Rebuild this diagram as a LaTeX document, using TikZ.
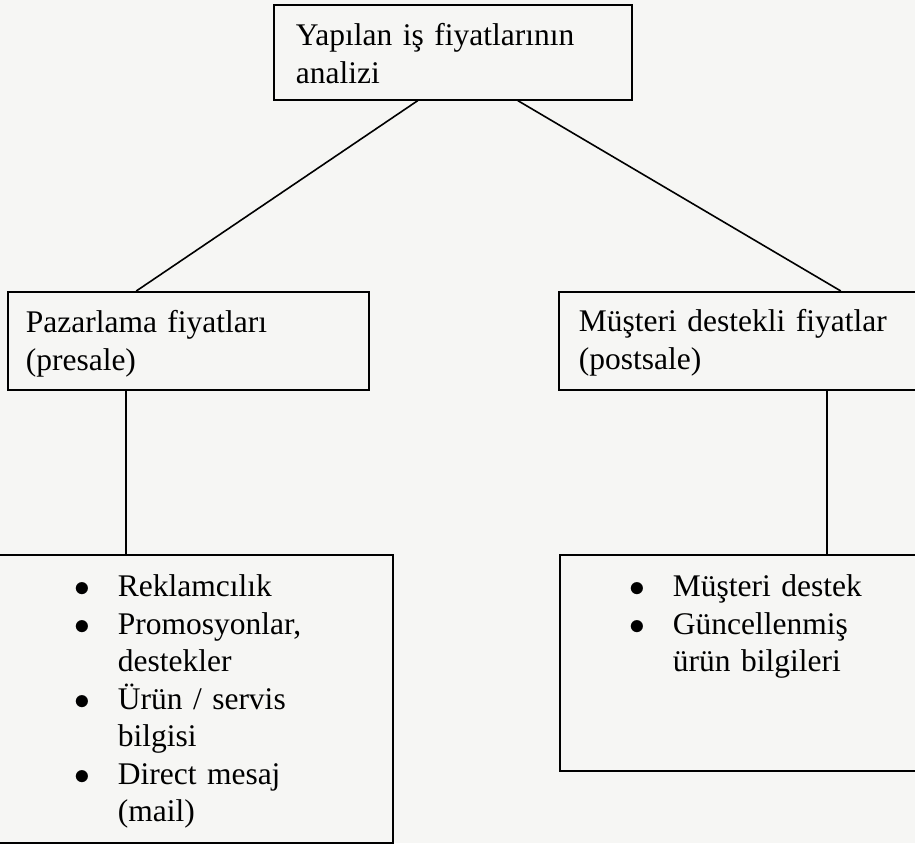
\documentclass[tikz,border=0pt]{standalone}
\usepackage{fix-cm}
\usepackage{fontspec}
\setmainfont{Liberation Serif}
\definecolor{paper}{RGB}{246,246,244}
\newcommand{\itm}[1]{\noindent\hangindent=43pt\hangafter=1\makebox[43pt][l]{$\bullet$}#1\par}

\begin{document}
\begin{tikzpicture}[x=1pt, y=-1pt,
  box/.style = {draw, line width=1.6pt, anchor=north west, align=left, inner ysep=0pt, font=\fontsize{31.5}{37.5}\selectfont},
  link/.style = {line width=1.6pt}]
\useasboundingbox (0,0) rectangle (915,843);
\fill[paper] (0,0) rectangle (915,843);
\clip (0,0) rectangle (915,843);
\node[box, inner xsep=22pt, text width=314pt, text height=41pt, text depth=54pt] (top) at (273,4) {Yapılan iş fiyatlarının\\analizi};
\node[box, inner xsep=18pt, text width=325pt, text height=41pt, text depth=57pt] (pre) at (7,291) {Pazarlama fiyatları\\(presale)};
\node[box, inner xsep=20pt, text width=360pt, text height=40pt, text depth=58pt] (post) at (558,291) {Müşteri destekli fiyatlar\\(postsale)};
\node[box, inner xsep=84pt, text width=234pt, text height=42pt, text depth=246pt] (prelist) at (-10,554) {\itm{Reklamcılık}\itm{Promosyonlar,\newline destekler}\itm{Ürün / servis\newline bilgisi}\itm{Direct mesaj\newline (mail)}};
\node[box, inner xsep=70pt, text width=330pt, text height=42pt, text depth=174pt] (postlist) at (559,554) {\itm{Müşteri destek}\itm{Güncellenmiş\newline ürün bilgileri}};
\coordinate (pa) at ([xshift=-62.5pt]pre.south);
\coordinate (pb) at ([xshift=68pt]post.south);
\draw[link] ([xshift=-35pt]top.south) -- ([xshift=-52pt]pre.north);
\draw[link] ([xshift=65pt]top.south) -- ([xshift=82pt]post.north);
\draw[link] (pa) -- (pa |- prelist.north);
\draw[link] (pb) -- (pb |- postlist.north);
\end{tikzpicture}
\end{document}
